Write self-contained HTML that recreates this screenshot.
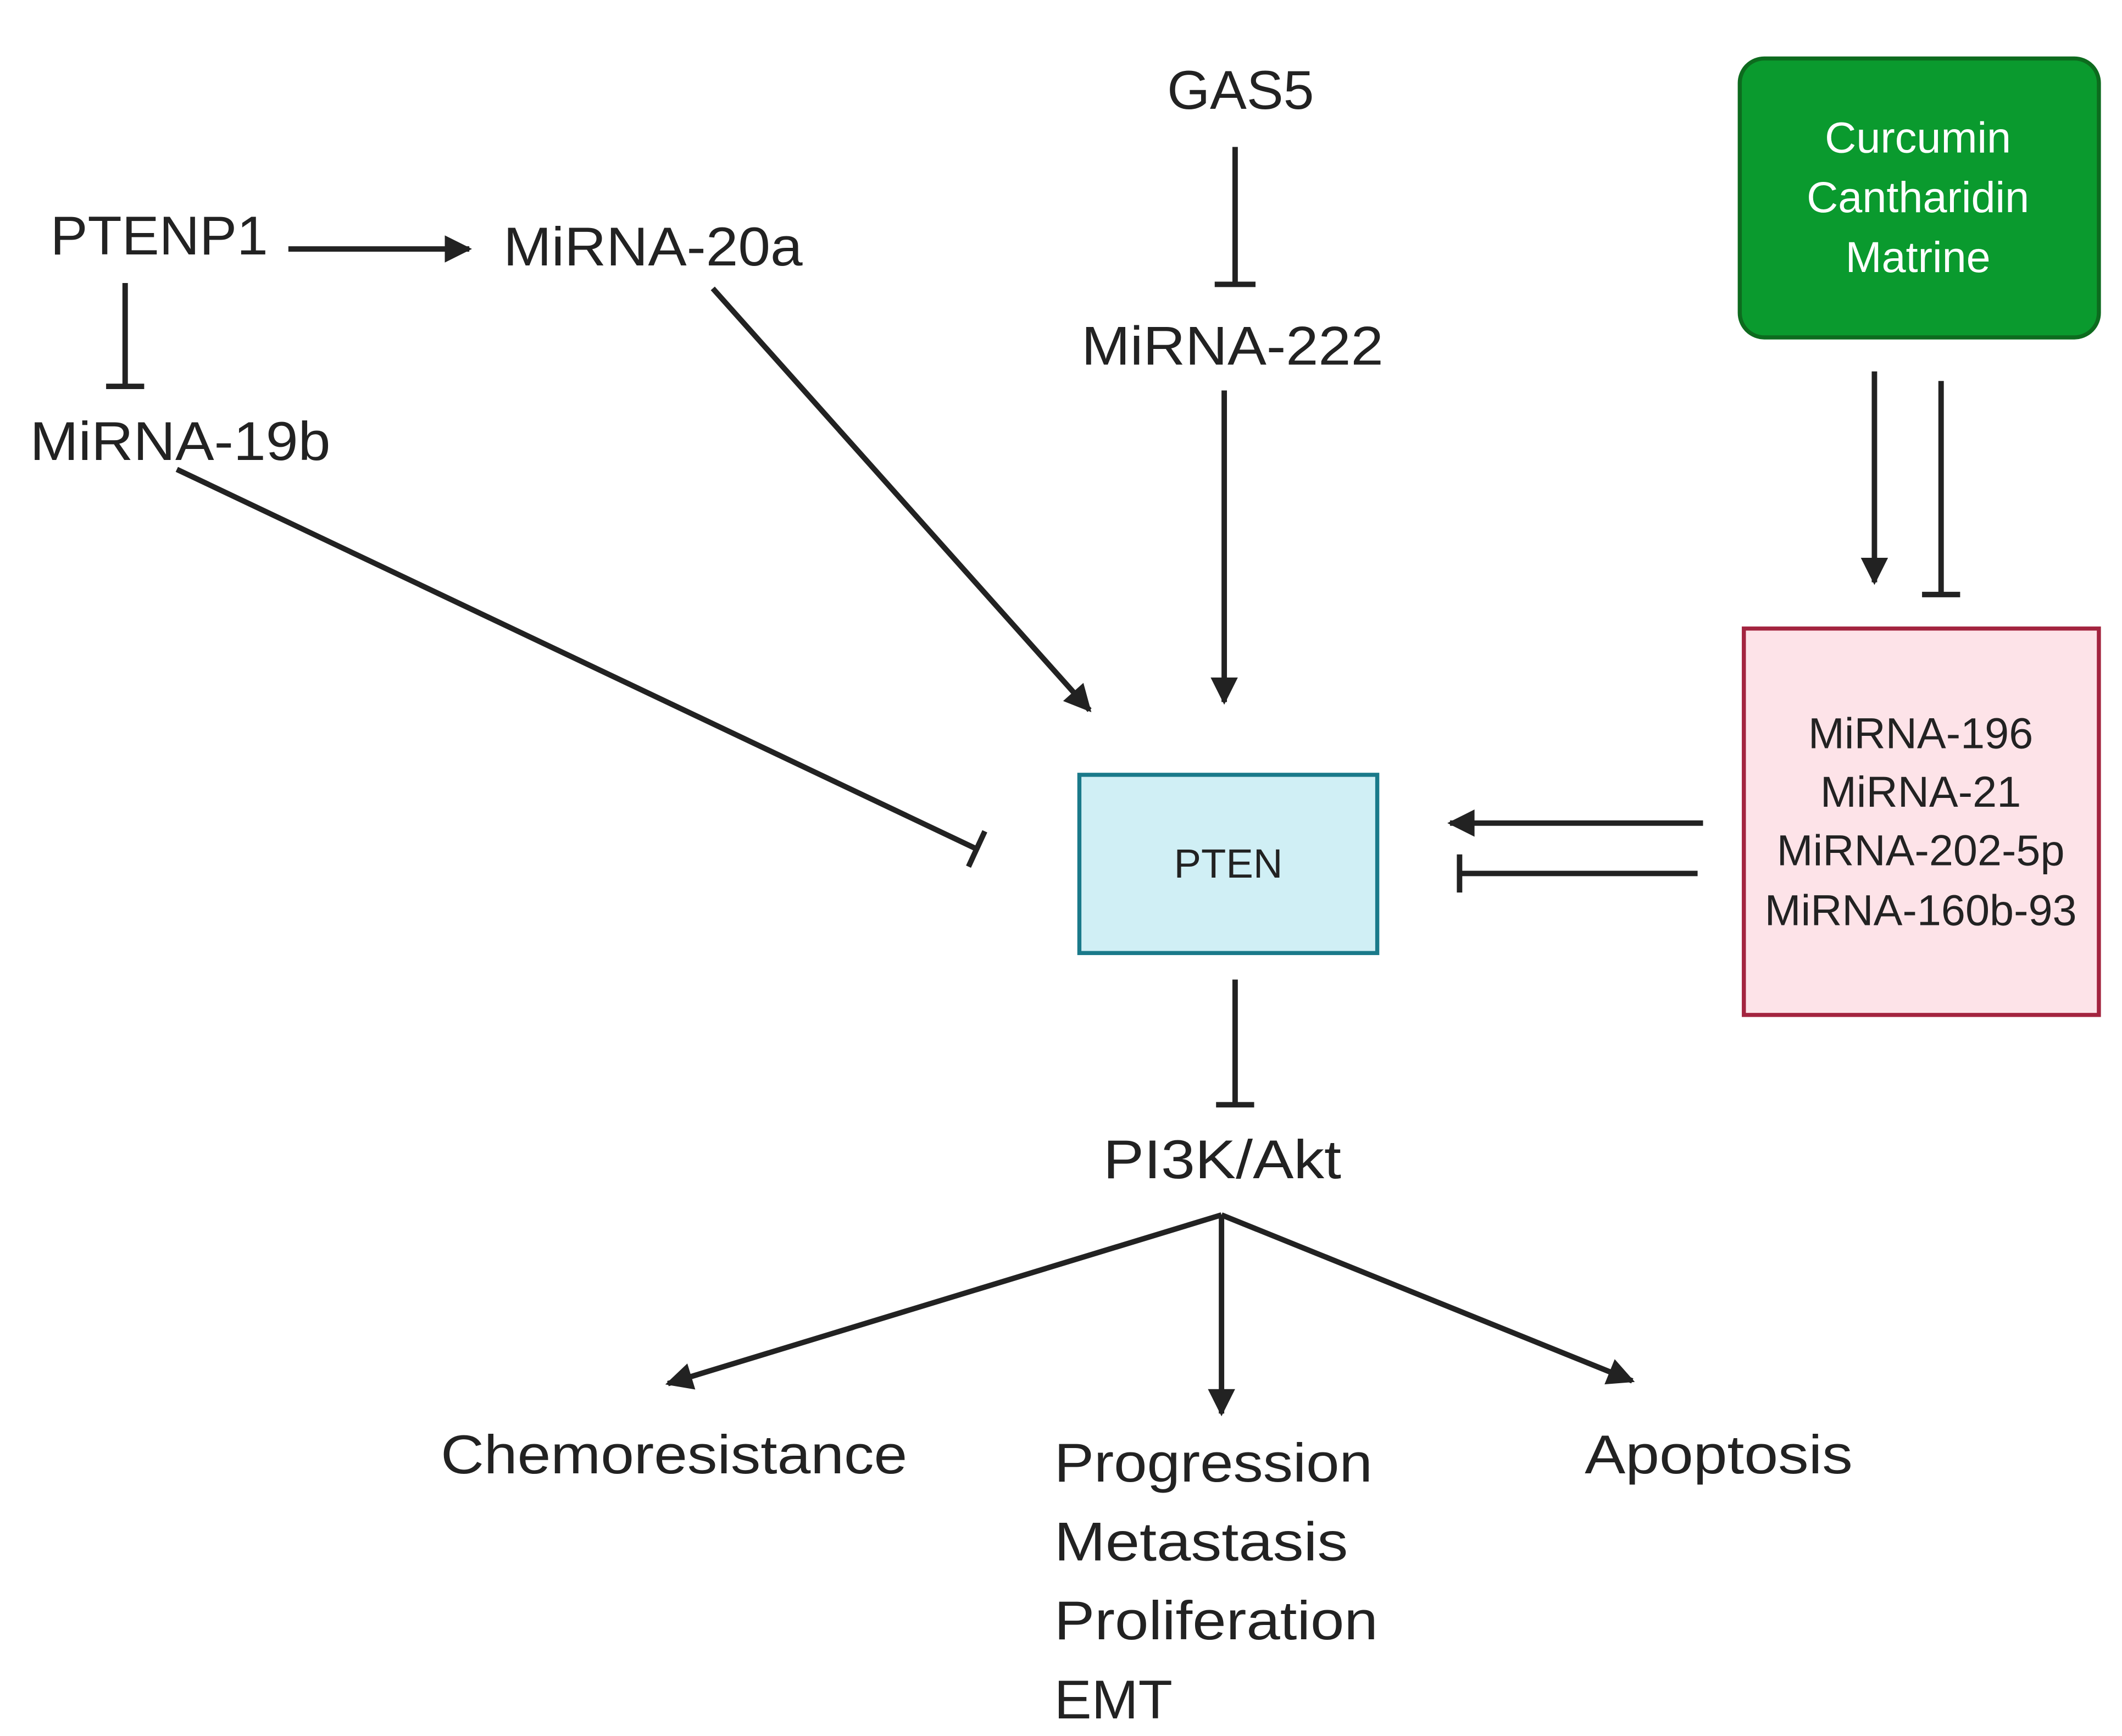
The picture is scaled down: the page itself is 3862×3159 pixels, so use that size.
<!DOCTYPE html>
<html><head><meta charset="utf-8"><style>html,body{margin:0;padding:0;background:#fff}svg{display:block}</style></head>
<body>
<svg xmlns="http://www.w3.org/2000/svg" width="3862" height="3159" viewBox="0 0 1560 1276" preserveAspectRatio="none">
<defs>
<marker id="ah" viewBox="0 0 10 10" refX="9" refY="5" markerWidth="6" markerHeight="5" markerUnits="strokeWidth" orient="auto"><path d="M0,0 L10,5 L0,10 z" fill="#222"/></marker>
</defs>
<rect width="1560" height="1276" fill="#fff"/>
<g font-family="Liberation Sans, sans-serif" fill="#222">
<text x="37" y="187" font-size="40" textLength="160" lengthAdjust="spacingAndGlyphs">PTENP1</text>
<text x="370" y="195" font-size="40" textLength="220" lengthAdjust="spacingAndGlyphs">MiRNA-20a</text>
<text x="22" y="338" font-size="40" textLength="221" lengthAdjust="spacingAndGlyphs">MiRNA-19b</text>
<text x="858" y="80" font-size="40" textLength="108" lengthAdjust="spacingAndGlyphs">GAS5</text>
<text x="795" y="268" font-size="40" textLength="222" lengthAdjust="spacingAndGlyphs">MiRNA-222</text>
<text x="811" y="866" font-size="40" textLength="175" lengthAdjust="spacingAndGlyphs">PI3K/Akt</text>
<text x="324" y="1083" font-size="40" textLength="343" lengthAdjust="spacingAndGlyphs">Chemoresistance</text>
<text x="775" y="1089" font-size="40" textLength="234" lengthAdjust="spacingAndGlyphs">Progression</text>
<text x="775" y="1147" font-size="40" textLength="216" lengthAdjust="spacingAndGlyphs">Metastasis</text>
<text x="775" y="1205" font-size="40" textLength="238" lengthAdjust="spacingAndGlyphs">Proliferation</text>
<text x="775" y="1263" font-size="40" textLength="87" lengthAdjust="spacingAndGlyphs">EMT</text>
<text x="1165" y="1083" font-size="40" textLength="197" lengthAdjust="spacingAndGlyphs">Apoptosis</text>
</g>
<rect x="1279" y="43" width="264" height="205" rx="18" fill="#0a9a2e" stroke="#0d6b1e" stroke-width="3"/>
<g font-family="Liberation Sans, sans-serif" fill="#fff" font-size="32" text-anchor="middle">
<text x="1410" y="112">Curcumin</text>
<text x="1410" y="156">Cantharidin</text>
<text x="1410" y="200">Matrine</text>
</g>
<rect x="793.5" y="569.5" width="219" height="131" fill="#d0eff5" stroke="#1a7a8a" stroke-width="3"/>
<text x="903" y="645" font-family="Liberation Sans, sans-serif" font-size="30" fill="#222" text-anchor="middle">PTEN</text>
<rect x="1282" y="462" width="261" height="284" fill="#fde3e8" stroke="#a3243f" stroke-width="3"/>
<g font-family="Liberation Sans, sans-serif" fill="#222" font-size="32" text-anchor="middle">
<text x="1412" y="550">MiRNA-196</text>
<text x="1412" y="593">MiRNA-21</text>
<text x="1412" y="636">MiRNA-202-5p</text>
<text x="1412" y="680">MiRNA-160b-93</text>
</g>
<g stroke="#222" stroke-width="4" fill="none">
<line x1="212" y1="183" x2="345" y2="183" marker-end="url(#ah)"/>
<line x1="92" y1="208" x2="92" y2="284"/><line x1="78" y1="284" x2="106" y2="284"/>
<line x1="908" y1="108" x2="908" y2="209"/><line x1="893" y1="209" x2="923" y2="209"/>
<line x1="900" y1="287" x2="900" y2="516" marker-end="url(#ah)"/>
<line x1="524" y1="212" x2="801" y2="522" marker-end="url(#ah)"/>
<line x1="130" y1="345" x2="718" y2="624"/><line x1="712" y1="637" x2="724" y2="611"/>
<line x1="1378" y1="273" x2="1378" y2="428" marker-end="url(#ah)"/>
<line x1="1427" y1="280" x2="1427" y2="437"/><line x1="1413" y1="437" x2="1441" y2="437"/>
<line x1="1252" y1="605" x2="1066" y2="605" marker-end="url(#ah)"/>
<line x1="1248" y1="642" x2="1073" y2="642"/><line x1="1073" y1="628" x2="1073" y2="656"/>
<line x1="908" y1="720" x2="908" y2="812"/><line x1="894" y1="812" x2="922" y2="812"/>
<line x1="898" y1="893" x2="491" y2="1017" marker-end="url(#ah)"/>
<line x1="898" y1="893" x2="898" y2="1039" marker-end="url(#ah)"/>
<line x1="898" y1="893" x2="1200" y2="1015" marker-end="url(#ah)"/>
</g>
</svg>
</body></html>
